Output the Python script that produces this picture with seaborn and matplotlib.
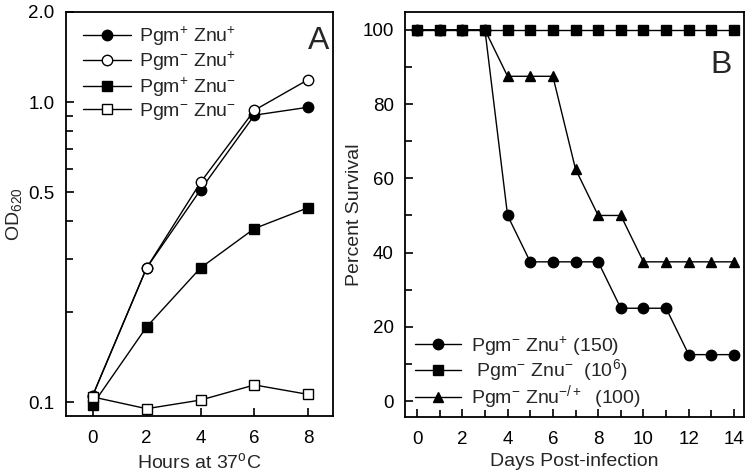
"""
Growth curves (A) and survival curves (B) for Pgm/Znu strains.
"""
import matplotlib
matplotlib.use("Agg")
import matplotlib.pyplot as plt
from matplotlib.ticker import FixedLocator, FixedFormatter, NullFormatter
import seaborn as sns

# Panel A — OD620 vs hours
hours = [0, 2, 4, 6, 8]
od_pp = [0.105, 0.28, 0.51, 0.905, 0.962]   # Pgm+ Znu+
od_mp = [0.105, 0.28, 0.54, 0.94, 1.19]     # Pgm- Znu+
od_pm = [0.098, 0.178, 0.28, 0.379, 0.445]  # Pgm+ Znu-
od_mm = [0.104, 0.095, 0.1015, 0.114, 0.106]  # Pgm- Znu-
labels_a = [r"Pgm$^{+}$ Znu$^{+}$", r"Pgm$^{-}$ Znu$^{+}$",
            r"Pgm$^{+}$ Znu$^{-}$", r"Pgm$^{-}$ Znu$^{-}$"]
yticks_a = [0.1, 0.5, 1.0, 2.0]
yticklabels_a = ["0.1", "0.5", "1.0", "2.0"]

# Panel B — percent survival vs days
days = list(range(15))
surv_znu_plus = [100, 100, 100, 100, 50, 37.5, 37.5, 37.5, 37.5, 25, 25, 25, 12.5, 12.5, 12.5]
surv_znu_minus = [100] * 15
surv_znu_mixed = [100, 100, 100, 100, 87.5, 87.5, 87.5, 62.5, 50, 50, 37.5, 37.5, 37.5, 37.5, 37.5]
labels_b = [r"Pgm$^{-}$ Znu$^{+}$ (150)", r" Pgm$^{-}$ Znu$^{-}$  (10$^{6}$)",
            r"Pgm$^{-}$ Znu$^{-/+}$  (100)"]

sns.set_theme(style="ticks")
plt.rcParams["font.family"] = ["Liberation Sans", "DejaVu Sans"]
plt.rcParams["mathtext.fontset"] = "custom"
plt.rcParams["mathtext.rm"] = "Liberation Sans"
plt.rcParams["mathtext.it"] = "Liberation Sans"

FS = 14

fig = plt.figure(figsize=(7.5, 4.76), dpi=100)
ax_a = fig.add_axes([0.0876, 0.126, 0.357, 0.849])
ax_b = fig.add_axes([0.54, 0.124, 0.452, 0.851])

line_kw = dict(color="black", linewidth=1.0, markeredgecolor="black",
               markeredgewidth=1.0, markersize=7.5)

# ---- A ----
sns.lineplot(x=hours, y=od_pp, marker="o", label=labels_a[0], ax=ax_a, **line_kw)
sns.lineplot(x=hours, y=od_mp, marker="o", markerfacecolor="white", label=labels_a[1], ax=ax_a, **line_kw)
sns.lineplot(x=hours, y=od_pm, marker="s", label=labels_a[2], ax=ax_a, **line_kw)
sns.lineplot(x=hours, y=od_mm, marker="s", markerfacecolor="white", label=labels_a[3], ax=ax_a, **line_kw)

ax_a.set_yscale("log")
ax_a.set_ylim(0.0898, 2.0)
ax_a.set_xlim(-1.0, 8.93)
ax_a.yaxis.set_major_locator(FixedLocator(yticks_a))
ax_a.yaxis.set_major_formatter(FixedFormatter(yticklabels_a))
ax_a.yaxis.set_minor_locator(FixedLocator([0.2, 0.3, 0.4, 0.6, 0.7, 0.8, 0.9]))
ax_a.yaxis.set_minor_formatter(NullFormatter())
ax_a.set_xticks(hours)
ax_a.set_xlabel(r"Hours at 37$^{o}$C", fontsize=FS, labelpad=4)
ax_a.set_ylabel(r"OD$_{620}$", fontsize=FS, labelpad=3)
ax_a.text(0.985, 0.965, "A", transform=ax_a.transAxes, fontsize=23, ha="right", va="top")
ax_a.legend(loc="upper left", frameon=False, fontsize=FS, handlelength=2.5,
            handletextpad=0.4, labelspacing=0.12, borderaxespad=0.2,
            bbox_to_anchor=(0.02, 0.998))

# ---- B ----
sns.lineplot(x=days, y=surv_znu_plus, marker="o", label=labels_b[0], ax=ax_b, **line_kw)
sns.lineplot(x=days, y=surv_znu_mixed, marker="^", ax=ax_b, **line_kw)
sns.lineplot(x=days, y=surv_znu_minus, marker="s", label=labels_b[1], ax=ax_b, **line_kw)
# keep legend order: circle, square, triangle
handles, _ = ax_b.get_legend_handles_labels()
tri = ax_b.lines[1]
ax_b.legend(handles + [tri], labels_b, loc="lower left", frameon=False, fontsize=FS,
            handlelength=2.4, handletextpad=0.5, labelspacing=0.0,
            borderaxespad=0.1, bbox_to_anchor=(0.0, -0.01))

ax_b.set_xlim(-0.53, 14.44)
ax_b.set_ylim(-4.3, 104.85)
ax_b.set_xticks(range(0, 15, 2))
ax_b.set_xticks(range(1, 15, 2), minor=True)
ax_b.set_yticks(range(0, 101, 20))
ax_b.set_yticks(range(10, 100, 20), minor=True)
ax_b.set_xlabel("Days Post-infection", fontsize=FS, labelpad=4)
ax_b.set_ylabel("Percent Survival", fontsize=FS, labelpad=0)
ax_b.text(0.965, 0.905, "B", transform=ax_b.transAxes, fontsize=23, ha="right", va="top")

for ax in (ax_a, ax_b):
    for sp in ax.spines.values():
        sp.set_visible(True)
        sp.set_linewidth(1.3)
        sp.set_color("black")
    ax.tick_params(which="major", direction="in", length=6, width=1.2,
                   labelsize=13.5, colors="black", pad=8)
    ax.tick_params(axis="x", which="major", pad=10)
    ax.tick_params(which="minor", direction="in", length=5, width=1.2, colors="black")
    ax.tick_params(axis="y", which="both", left=True)
    ax.tick_params(axis="x", which="both", bottom=True)

fig.savefig("out.png", dpi=100)
